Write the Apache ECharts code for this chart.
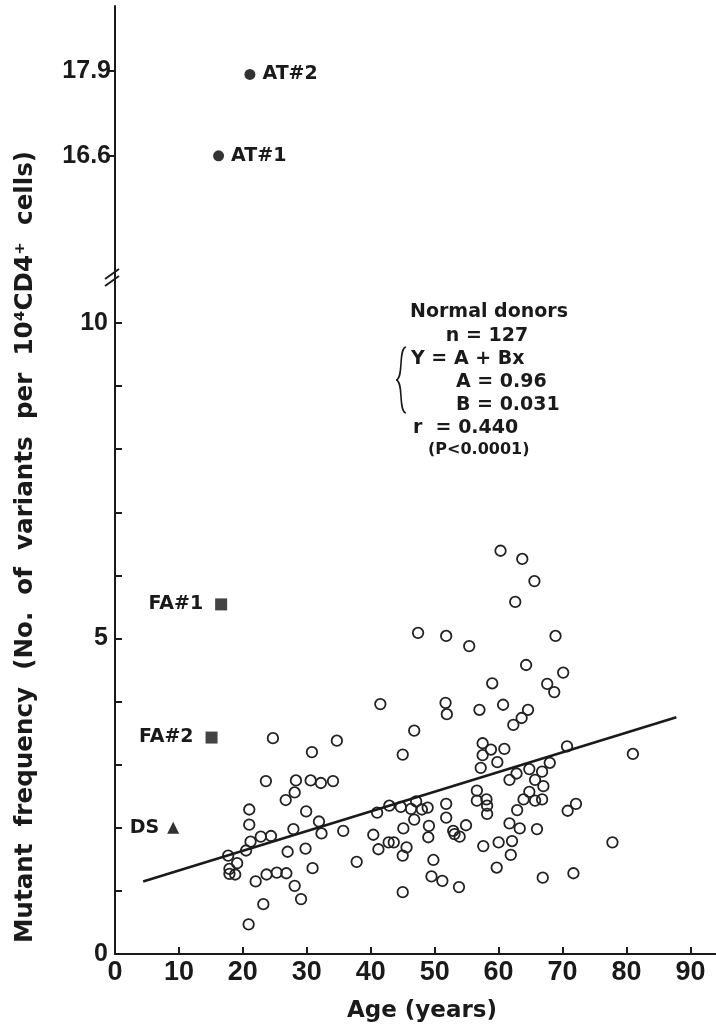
<!DOCTYPE html>
<html>
<head>
<meta charset="utf-8">
<script src="https://cdn.jsdelivr.net/npm/echarts@6/dist/echarts.min.js"></script>
<style>
  html, body { margin: 0; padding: 0; background: #fff; }
  #app { width: 716px; height: 1028px; }
</style>
</head>
<body>
<div id="app"></div>
<script>
// normal donors (age, mutant frequency)
const donorAge = [
  17.7, 19.1, 17.9, 17.9, 18.8, 20.5, 21.2, 21.0, 21.0, 20.9,
  22.0, 22.8, 23.2, 23.6, 23.7, 24.4, 24.7, 25.3, 26.7, 26.8,
  27.0, 27.9, 28.1, 28.1, 28.3, 29.1, 29.8, 29.9, 30.6, 30.8,
  30.9, 31.9, 32.2, 32.3, 34.1, 34.7, 35.7, 37.8, 40.4, 41.2,
  41.0, 42.9, 42.8, 43.6, 41.5, 44.7, 45.0, 45.1, 45.0, 45.0,
  45.6, 46.3, 46.8, 46.8, 47.1, 47.4, 48.0, 48.9, 49.1, 49.0,
  49.8, 49.5, 51.2, 51.8, 51.8, 51.7, 51.9, 51.8, 52.9, 53.1,
  53.9, 53.8, 54.9, 55.4, 56.6, 56.6, 57.0, 57.2, 57.5, 57.5,
  57.6, 58.1, 58.2, 58.2, 58.8, 59.0, 59.7, 59.8, 60.0, 60.3,
  60.7, 60.9, 61.7, 61.7, 62.1, 61.9, 62.3, 62.6, 62.8, 62.9,
  63.3, 63.6, 63.7, 63.9, 64.3, 64.6, 64.8, 64.8, 65.6, 65.7,
  65.7, 66.0, 66.8, 66.8, 66.9, 67.0, 67.6, 68.0, 68.7, 68.9,
  70.1, 70.7, 70.8, 71.7, 72.1, 77.8, 81.0
];
const donorFreq = [
  1.56, 1.44, 1.35, 1.27, 1.26, 1.64, 1.78, 2.29, 2.05, 0.47,
  1.15, 1.86, 0.79, 2.74, 1.26, 1.87, 3.42, 1.29, 2.44, 1.28,
  1.62, 1.98, 2.56, 1.08, 2.75, 0.87, 1.67, 2.26, 2.75, 3.20,
  1.36, 2.10, 2.71, 1.91, 2.74, 3.38, 1.95, 1.46, 1.89, 1.66,
  2.24, 2.35, 1.77, 1.77, 3.96, 2.33, 3.16, 1.99, 1.56, 0.98,
  1.69, 2.30, 2.13, 3.54, 2.42, 5.09, 2.29, 2.32, 2.03, 1.85,
  1.49, 1.23, 1.16, 2.38, 2.16, 3.98, 3.80, 5.04, 1.95, 1.90,
  1.86, 1.06, 2.04, 4.88, 2.59, 2.43, 3.87, 2.95, 3.34, 3.15,
  1.71, 2.45, 2.35, 2.22, 3.24, 4.29, 1.37, 3.04, 1.77, 6.39,
  3.95, 3.25, 2.76, 2.07, 1.79, 1.57, 3.63, 5.58, 2.86, 2.28,
  1.99, 3.74, 6.26, 2.45, 4.58, 3.87, 2.93, 2.57, 5.91, 2.76,
  2.43, 1.98, 2.89, 2.45, 1.21, 2.66, 4.28, 3.03, 4.15, 5.04,
  4.46, 3.29, 2.27, 1.28, 2.38, 1.77, 3.17
];

// regression line end points as drawn
const fitAge = [4.4, 87.8];
const fitFreq = [1.15, 3.75];

// patients
const atNames = ['AT#1', 'AT#2'];
const atAge = [16.2, 21.1];
const atFreq = [16.6, 17.85];
const faNames = ['FA#1', 'FA#2'];
const faAge = [16.6, 15.1];
const faFreq = [5.54, 3.43];
const dsNames = ['DS'];
const dsAge = [9.1];
const dsFreq = [2.0];

// axes
const xTicks = [0, 10, 20, 30, 40, 50, 60, 70, 80, 90];
const lowerTicks = [0, 1, 2, 3, 4, 5, 6, 7, 8, 9, 10];
const lowerLabels = [0, 5, 10];
const upperTicks = [16.6, 17.9];

const GRID_LEFT = 115;
const SPLIT_Y = 275;
const INK = '#1a1a1a';
const tickFont = { fontFamily: 'Liberation Sans', fontWeight: 'bold', color: INK };

const zip = (xs, ys) => xs.map((x, i) => [x, ys[i]]);
const named = (names, xs, ys) => names.map((n, i) => ({ name: n, value: [xs[i], ys[i]] }));

const chart = echarts.init(document.getElementById('app'));

const pointLabel = (pos, dist) => ({
  show: true, formatter: '{b}', position: pos, distance: dist,
  fontFamily: 'DejaVu Sans', fontWeight: 'bold', fontSize: 19, color: INK
});

const note = (text, x, y, align, size) => ({
  type: 'text', x: x, y: y,
  style: { text: text, align: align, verticalAlign: 'middle', fill: INK,
           font: 'bold ' + (size || 19) + 'px "DejaVu Sans"' }
});

chart.setOption({
  animation: false,
  grid: [
    { left: GRID_LEFT, right: 0, top: 6, height: SPLIT_Y - 6 },
    { left: GRID_LEFT, right: 0, top: SPLIT_Y, bottom: 71 }
  ],
  xAxis: [
    { gridIndex: 0, type: 'value', min: 0, max: 94, show: false },
    {
      gridIndex: 1, type: 'value', min: 0, max: 94,
      name: 'Age (years)', nameLocation: 'middle', nameGap: 46,
      nameTextStyle: { fontFamily: 'DejaVu Sans', fontWeight: 'bold', fontSize: 23, color: INK, padding: [0, 0, 0, 13] },
      axisLine: { lineStyle: { color: INK, width: 2 } },
      axisTick: { inside: true, length: 7, customValues: xTicks, lineStyle: { color: INK, width: 2 } },
      axisLabel: Object.assign({ customValues: xTicks, margin: 5, fontSize: 27 }, tickFont),
      splitLine: { show: false }
    }
  ],
  yAxis: [
    {
      gridIndex: 0, type: 'value', min: 14.77, max: 18.9,
      axisLine: { show: true, lineStyle: { color: INK, width: 2 } },
      axisTick: { show: true, inside: false, length: 8, customValues: upperTicks, lineStyle: { color: INK, width: 2 } },
      axisLabel: Object.assign({ customValues: upperTicks, margin: 4, fontSize: 25, formatter: v => v.toFixed(1) }, tickFont),
      splitLine: { show: false }
    },
    {
      gridIndex: 1, type: 'value', min: 0, max: 10.76,
      axisLine: { show: true, lineStyle: { color: INK, width: 2 } },
      axisTick: { show: true, inside: true, length: 7, customValues: lowerTicks, lineStyle: { color: INK, width: 2 } },
      axisLabel: Object.assign({ customValues: lowerLabels, margin: 7, fontSize: 25 }, tickFont),
      splitLine: { show: false }
    }
  ],
  series: [
    {
      type: 'scatter', xAxisIndex: 1, yAxisIndex: 1,
      data: zip(donorAge, donorFreq),
      symbol: 'circle', symbolSize: 10.5,
      itemStyle: { color: 'rgba(0,0,0,0)', borderColor: '#222', borderWidth: 1.8, opacity: 1 }
    },
    {
      type: 'line', xAxisIndex: 1, yAxisIndex: 1,
      data: zip(fitAge, fitFreq), showSymbol: false, silent: true,
      lineStyle: { color: INK, width: 2.6 }
    },
    {
      type: 'scatter', xAxisIndex: 0, yAxisIndex: 0,
      data: named(atNames, atAge, atFreq),
      symbol: 'circle', symbolSize: 11,
      itemStyle: { color: '#333', opacity: 1 },
      label: pointLabel('right', 7)
    },
    {
      type: 'scatter', xAxisIndex: 1, yAxisIndex: 1,
      data: named(faNames, faAge, faFreq),
      symbol: 'rect', symbolSize: 12,
      itemStyle: { color: '#444', opacity: 1 },
      label: pointLabel('left', 12)
    },
    {
      type: 'scatter', xAxisIndex: 1, yAxisIndex: 1,
      data: named(dsNames, dsAge, dsFreq),
      symbol: 'triangle', symbolSize: 12,
      itemStyle: { color: '#333', opacity: 1 },
      label: pointLabel('left', 8)
    }
  ],
  graphic: [
    {
      type: 'text', x: 26, y: 547, rotation: Math.PI / 2,
      style: {
        text: 'Mutant  frequency  (No.  of  variants  per  10\u2074CD4\u207A  cells)',
        align: 'center', verticalAlign: 'middle', fill: INK,
        font: 'bold 24.6px "DejaVu Sans"'
      }
    },
    // axis break
    { type: 'line', shape: { x1: GRID_LEFT - 10, y1: SPLIT_Y + 4, x2: GRID_LEFT + 4, y2: SPLIT_Y - 6 }, style: { stroke: INK, lineWidth: 2 } },
    { type: 'line', shape: { x1: GRID_LEFT - 10, y1: SPLIT_Y + 11, x2: GRID_LEFT + 4, y2: SPLIT_Y + 1 }, style: { stroke: INK, lineWidth: 2 } },
    // regression summary
    note('Normal donors', 489, 312, 'center'),
    note('n = 127', 487, 336, 'center'),
    note('Y = A + Bx', 411, 359, 'left'),
    note('A = 0.96', 456, 382, 'left'),
    note('B = 0.031', 456, 405, 'left'),
    note('r  = 0.440', 413, 428, 'left'),
    note('(P<0.0001)', 428, 450, 'left', 16),
    // brace
    {
      type: 'bezierCurve',
      shape: { x1: 406, y1: 347, cpx1: 398, cpy1: 348, cpx2: 404, cpy2: 379, x2: 396, y2: 380 },
      style: { stroke: INK, lineWidth: 1.6, fill: null }
    },
    {
      type: 'bezierCurve',
      shape: { x1: 396, y1: 380, cpx1: 404, cpy1: 381, cpx2: 398, cpy2: 412, x2: 406, y2: 413 },
      style: { stroke: INK, lineWidth: 1.6, fill: null }
    }
  ]
});
</script>
</body>
</html>
